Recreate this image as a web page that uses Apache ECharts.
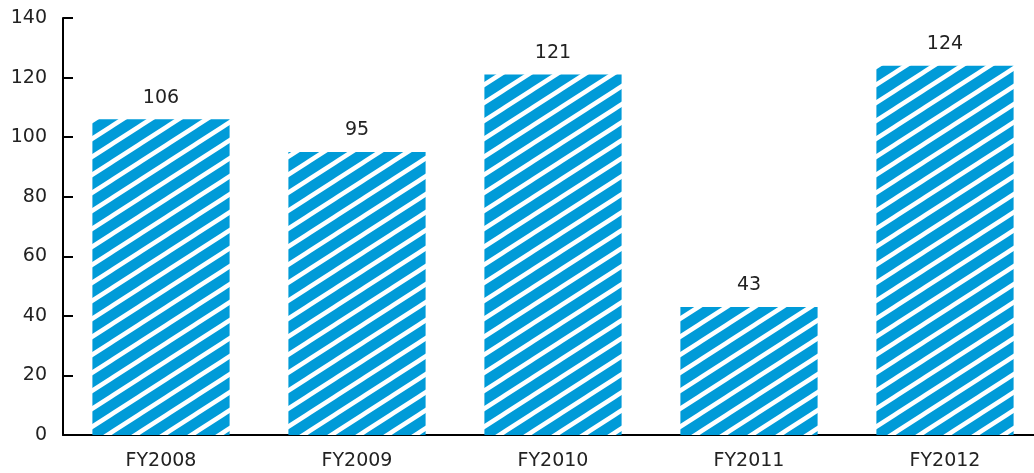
<!DOCTYPE html>
<html>
<head>
<meta charset="utf-8">
<script src="https://cdn.jsdelivr.net/npm/echarts@6/dist/echarts.min.js"></script>
<style>
  html, body { margin: 0; padding: 0; background: #fff; overflow: hidden; }
  #container { width: 1043px; height: 473px; }
</style>
</head>
<body>
<div id="container"></div>
<script>
var years = ["FY2008", "FY2009", "FY2010", "FY2011", "FY2012"];
var values = [106, 95, 121, 43, 124];
var yTicks = [0, 20, 40, 60, 80, 100, 120, 140];

// diagonal white stripes on blue
function makeStripes() {
  var w = 28, h = 18;
  var c = document.createElement("canvas");
  c.width = w;
  c.height = h;
  var ctx = c.getContext("2d");
  ctx.fillStyle = "#009bd8";
  ctx.fillRect(0, 0, w, h);
  ctx.strokeStyle = "#ffffff";
  ctx.lineWidth = 4.5;
  [-h, 0, h].forEach(function (off) {
    ctx.beginPath();
    ctx.moveTo(-w, 2 * h + off);
    ctx.lineTo(2 * w, -h + off);
    ctx.stroke();
  });
  return c;
}

var font = "'DejaVu Sans', sans-serif";
var chartDom = document.getElementById("container");
var myChart = echarts.init(chartDom);
var option;

option = {
  animation: false,
  grid: {
    left: 63,
    right: 0,
    top: 18,
    bottom: 38
  },
  xAxis: {
    type: "category",
    data: years,
    axisLine: { lineStyle: { color: "#000", width: 2 } },
    axisTick: { inside: true, length: 10, lineStyle: { color: "#000", width: 2 } },
    axisLabel: {
      color: "#222",
      fontSize: 19,
      fontFamily: font,
      margin: 17
    }
  },
  yAxis: {
    type: "value",
    min: yTicks[0],
    max: yTicks[yTicks.length - 1],
    interval: 20,
    splitLine: { show: false },
    axisLine: { show: true, lineStyle: { color: "#000", width: 2 } },
    axisTick: { show: true, inside: true, length: 10, lineStyle: { color: "#000", width: 2 } },
    axisLabel: {
      color: "#222",
      fontSize: 19,
      fontFamily: font,
      margin: 16
    }
  },
  series: [
    {
      type: "bar",
      data: values,
      barCategoryGap: "30%",
      itemStyle: {
        color: { image: makeStripes(), repeat: "repeat" }
      },
      label: {
        show: true,
        position: "top",
        distance: 12,
        color: "#222",
        fontSize: 19,
        fontFamily: font
      }
    }
  ]
};
option && myChart.setOption(option);
</script>
</body>
</html>
